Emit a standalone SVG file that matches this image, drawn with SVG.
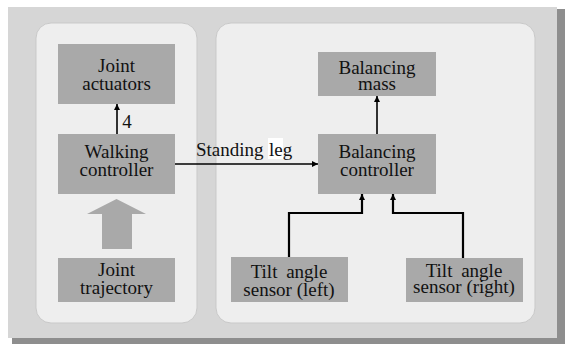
<svg xmlns="http://www.w3.org/2000/svg" width="565" height="344" viewBox="0 0 565 344">
<defs>
<marker id="ah" viewBox="0 0 10 10" refX="10" refY="5" markerWidth="6" markerHeight="6" markerUnits="userSpaceOnUse" orient="auto">
<path d="M0,0 L10,5 L0,10 Z" fill="#000"/>
</marker>
<style>
.box{fill:#a9a9a9;}
.panel{fill:#eeeeee;stroke:#c9c9c9;stroke-width:1;}
.t{font-family:"Liberation Serif","Times New Roman",serif;font-size:19px;fill:#111;text-anchor:middle;}
.ln{fill:none;stroke:#000;stroke-width:1.6;marker-end:url(#ah);}
.lnb{fill:none;stroke:#000;stroke-width:2.2;marker-end:url(#ah);}
</style>
</defs>
<rect width="565" height="344" fill="#ffffff"/>
<g id="frame">
<rect x="12" y="9" width="553" height="335" fill="#8e8e8e"/>
<rect x="8" y="7" width="549" height="331" fill="#d6d6d6"/>
<rect id="panel-left" class="panel" x="36" y="23" width="161" height="300" rx="15"/>
<rect id="panel-right" class="panel" x="216" y="23" width="319" height="300" rx="15"/>
</g>
<g id="joint-actuators">
<rect class="box" x="58" y="44" width="117" height="60"/>
<text class="t" x="116.5" y="72">Joint</text>
<text class="t" x="116.5" y="90">actuators</text>
</g>
<g id="walking-controller">
<rect class="box" x="58" y="134" width="117" height="60"/>
<text class="t" x="116.5" y="158">Walking</text>
<text class="t" x="116.5" y="176">controller</text>
</g>
<g id="joint-trajectory">
<rect class="box" x="58" y="258" width="117" height="44"/>
<text class="t" x="116.5" y="276">Joint</text>
<text class="t" x="116.5" y="294">trajectory</text>
</g>
<g id="balancing-mass">
<rect class="box" x="318" y="52" width="118" height="44"/>
<text class="t" x="377" y="74">Balancing</text>
<text class="t" x="377" y="90">mass</text>
</g>
<g id="balancing-controller">
<rect class="box" x="318" y="134" width="118" height="60"/>
<text class="t" x="377" y="158">Balancing</text>
<text class="t" x="377" y="176">controller</text>
</g>
<g id="tilt-left">
<rect class="box" x="231" y="257" width="117" height="45"/>
<text class="t" x="289" y="278" word-spacing="4">Tilt angle</text>
<text class="t" x="289" y="296">sensor (left)</text>
</g>
<g id="tilt-right">
<rect class="box" x="406" y="258" width="117" height="44"/>
<text class="t" x="464" y="277" word-spacing="4">Tilt angle</text>
<text class="t" x="464" y="293">sensor (right)</text>
</g>
<g id="connectors">
<polygon points="116.5,199 146,214 132,214 132,249 102,249 102,214 87,214" fill="#a9a9a9"/>
<line class="ln" x1="117" y1="134" x2="117" y2="104"/>
<text class="t" x="127" y="128">4</text>
<line class="ln" x1="175" y1="164" x2="318" y2="164"/>
<text class="t" x="196" y="156" style="text-anchor:start">Standing</text>
<rect x="268" y="138" width="15" height="21" fill="#ffffff"/>
<text class="t" x="269" y="156" style="text-anchor:start">leg</text>
<line class="ln" x1="377" y1="134" x2="377" y2="96"/>
<polyline class="lnb" points="289,257 289,213 362,213 362,194"/>
<polyline class="lnb" points="463,258 463,213 393,213 393,194"/>
</g>
</svg>
